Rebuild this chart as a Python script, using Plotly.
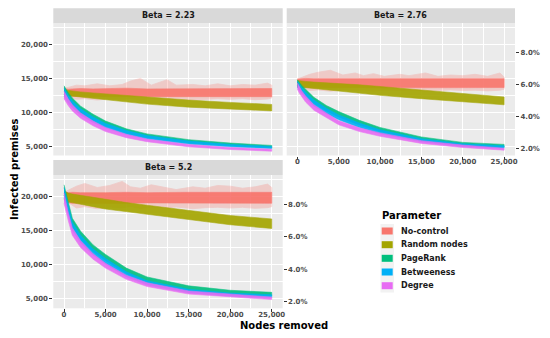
import plotly.graph_objects as go

# ---------------- data ----------------
STRATEGIES = ["No-control", "Random nodes", "PageRank", "Betweeness", "Degree"]
COLORS = ["#F8766D", "#A3A500", "#00BF7D", "#00B0F6", "#E76BF3"]
PANELS = ["Beta = 2.23", "Beta = 2.76", "Beta = 5.2"]

X = [0, 250, 500, 1000, 2000, 3500, 5000, 7500, 10000, 15000, 20000, 25000]
X_SPIKE = [0, 1500, 2500, 4000, 5500, 7000, 8000, 9200, 10500, 12400, 13500,
           15500, 17000, 18500, 20000, 21500, 23000, 24500, 25000]

X_TICKS = [0, 5000, 10000, 15000, 20000, 25000]
Y_TICKS = [5000, 10000, 15000, 20000]
PCT_TICKS = [2, 4, 6, 8]
PCT_LABELS = ["2.0%", "4.0%", "6.0%", "8.0%"]

# Beta = 2.23
B1_NOCTRL_LO = [12400, 12350, 12300, 12350, 12300, 12250, 12300, 12350, 12300, 12300, 12350, 12300]
B1_NOCTRL_HI = [13500, 13450, 13400, 13450, 13500, 13450, 13500, 13550, 13450, 13450, 13500, 13500]
B1_NOCTRL_SPK_LO = [12300, 11900, 12000, 11800, 12000, 11900, 12000, 11800, 12000, 11900, 12000,
                    11800, 11950, 12000, 11900, 12000, 11850, 11950, 12100]
B1_NOCTRL_SPK_HI = [13500, 14000, 13900, 14200, 13900, 14100, 14600, 15000, 14000, 14800, 14000,
                    14100, 13900, 14200, 13900, 14100, 14000, 14300, 14000]
B1_RANDOM_LO = [12600, 12500, 12450, 12350, 12200, 12000, 11800, 11500, 11200, 10750, 10450, 10200]
B1_RANDOM_HI = [13300, 13250, 13200, 13100, 13000, 12850, 12700, 12450, 12200, 11800, 11450, 11150]
B1_PAGERANK_LO = [12600, 12100, 11700, 11000, 9900, 8800, 7950, 6900, 6250, 5450, 5050, 4750]
B1_PAGERANK_HI = [13900, 13300, 12900, 12100, 10900, 9700, 8700, 7550, 6800, 5950, 5450, 5100]
B1_BETWEEN_LO = [12400, 11900, 11400, 10700, 9600, 8500, 7700, 6700, 6050, 5300, 4900, 4650]
B1_BETWEEN_HI = [13600, 13000, 12500, 11700, 10500, 9300, 8350, 7300, 6550, 5750, 5250, 4950]
B1_DEGREE_LO = [12000, 11500, 11000, 10200, 9100, 8000, 7150, 6250, 5650, 4900, 4500, 4250]
B1_DEGREE_HI = [13100, 12500, 12000, 11100, 9900, 8700, 7750, 6750, 6050, 5250, 4800, 4550]

# Beta = 2.76
B2_NOCTRL_LO = [13700, 13650, 13600, 13650, 13600, 13650, 13600, 13650, 13600, 13650, 13600, 13650]
B2_NOCTRL_HI = [14900, 14950, 14900, 15000, 14950, 14950, 15000, 14950, 14900, 14950, 15000, 14950]
B2_NOCTRL_SPK_LO = [13700, 13200, 13300, 13100, 13300, 13200, 13300, 13100, 13250, 13200, 13300,
                    13100, 13250, 13300, 13200, 13250, 13150, 13250, 13400]
B2_NOCTRL_SPK_HI = [14900, 15600, 15900, 16200, 15500, 15800, 15400, 15700, 15300, 15600, 15400,
                    15800, 15300, 15500, 15400, 15600, 15300, 15800, 15200]
B2_RANDOM_LO = [13800, 13750, 13700, 13600, 13450, 13250, 13050, 12800, 12500, 12000, 11500, 11100]
B2_RANDOM_HI = [14700, 14650, 14600, 14550, 14450, 14350, 14250, 14050, 13800, 13300, 12750, 12250]
B2_PAGERANK_LO = [13900, 13400, 13000, 12400, 11300, 10200, 9300, 8100, 7150, 5850, 5100, 4850]
B2_PAGERANK_HI = [14800, 14400, 14000, 13400, 12200, 11000, 10100, 8800, 7750, 6350, 5550, 5250]
B2_BETWEEN_LO = [13700, 13200, 12800, 12100, 10900, 9800, 8900, 7750, 6850, 5650, 4950, 4700]
B2_BETWEEN_HI = [14600, 14100, 13700, 13000, 11800, 10600, 9600, 8400, 7400, 6100, 5350, 5050]
B2_DEGREE_LO = [13400, 12800, 12300, 11500, 10300, 9200, 8150, 7150, 6450, 5400, 4800, 4400]
B2_DEGREE_HI = [14300, 13700, 13200, 12400, 11100, 9900, 8750, 7700, 6950, 5800, 5150, 4700]

# Beta = 5.2
B3_NOCTRL_LO = [19500, 19100, 19050, 19000, 19050, 19000, 19050, 19000, 19050, 19000, 19050, 19000]
B3_NOCTRL_HI = [20800, 20600, 20550, 20600, 20550, 20600, 20550, 20600, 20550, 20600, 20550, 20600]
B3_NOCTRL_SPK_LO = [19500, 18300, 18500, 18200, 18400, 18300, 18500, 18200, 18400, 18300, 18450,
                    18200, 18350, 18400, 18300, 18400, 18250, 18350, 18500]
B3_NOCTRL_SPK_HI = [20600, 21500, 21900, 21300, 21600, 22200, 21400, 21200, 21700, 21300, 21000,
                    21400, 21200, 21600, 21500, 21200, 21400, 21800, 21300]
B3_RANDOM_LO = [19500, 19300, 19200, 19050, 18800, 18500, 18150, 17700, 17300, 16600, 15850, 15300]
B3_RANDOM_HI = [20800, 20600, 20500, 20350, 20150, 19850, 19500, 19100, 18700, 17900, 17200, 16700]
B3_PAGERANK_LO = [20200, 18900, 17900, 15500, 13700, 11900, 10600, 8700, 7450, 6250, 5700, 5450]
B3_PAGERANK_HI = [21700, 20400, 19300, 16800, 14900, 12900, 11500, 9500, 8200, 6900, 6250, 5950]
B3_BETWEEN_LO = [19800, 18500, 17400, 15000, 13200, 11400, 10100, 8250, 7050, 5900, 5400, 5200]
B3_BETWEEN_HI = [21300, 19900, 18700, 16200, 14300, 12300, 10900, 8950, 7650, 6400, 5850, 5600]
B3_DEGREE_LO = [19000, 17600, 16500, 14300, 12500, 10800, 9500, 7850, 6800, 5700, 5250, 4900]
B3_DEGREE_HI = [20500, 18900, 17700, 15400, 13500, 11600, 10200, 8450, 7350, 6150, 5650, 5250]

# ---------------- layout constants ----------------
# the page body has an 8px margin: draw a 542x330 figure offset by 8px
OFF = 8
W, H = 550 - OFF, 338 - OFF
X_RANGE = [-1290, 26320]
Y_RANGE = [3612, 23134]
# secondary (percentage) axis: 2.0% <-> 4580, 8.0% <-> 18880 premises
PCT_REF_V, PCT_REF_P, PCT_PER_UNIT = 4580, 2.0, 6.0 / 14300.0


def to_pct(v):
    return PCT_REF_P + (v - PCT_REF_V) * PCT_PER_UNIT


PCT_RANGE = [to_pct(Y_RANGE[0]), to_pct(Y_RANGE[1])]


def px(x):
    return (x - OFF) / W


def py(y):
    return 1 - (y - OFF) / H


P1_X = [px(53.3), px(282.7)]
P2_X = [px(286.7), px(515.0)]
TOP_Y = [py(155.5), py(23.3)]
BOT_Y = [py(308.3), py(175.0)]
STRIP_H = 15 / H

FONT = "DejaVu Sans"
TICKFONT = dict(family=FONT, size=7, color="#4D4D4D", weight="bold")

panel_data = [
    [(B1_NOCTRL_LO, B1_NOCTRL_HI, B1_NOCTRL_SPK_LO, B1_NOCTRL_SPK_HI),
     (B1_RANDOM_LO, B1_RANDOM_HI), (B1_PAGERANK_LO, B1_PAGERANK_HI),
     (B1_BETWEEN_LO, B1_BETWEEN_HI), (B1_DEGREE_LO, B1_DEGREE_HI)],
    [(B2_NOCTRL_LO, B2_NOCTRL_HI, B2_NOCTRL_SPK_LO, B2_NOCTRL_SPK_HI),
     (B2_RANDOM_LO, B2_RANDOM_HI), (B2_PAGERANK_LO, B2_PAGERANK_HI),
     (B2_BETWEEN_LO, B2_BETWEEN_HI), (B2_DEGREE_LO, B2_DEGREE_HI)],
    [(B3_NOCTRL_LO, B3_NOCTRL_HI, B3_NOCTRL_SPK_LO, B3_NOCTRL_SPK_HI),
     (B3_RANDOM_LO, B3_RANDOM_HI), (B3_PAGERANK_LO, B3_PAGERANK_HI),
     (B3_BETWEEN_LO, B3_BETWEEN_HI), (B3_DEGREE_LO, B3_DEGREE_HI)],
]
axes_refs = [("x", "y"), ("x2", "y2"), ("x3", "y3")]


def band(xs, lo, hi, color, opacity, xa, ya, name, lw=0.6):
    return go.Scatter(
        x=list(xs) + list(xs)[::-1], y=list(hi) + list(lo)[::-1],
        fill="toself", fillcolor=color, mode="lines",
        line=dict(color=color, width=lw), opacity=opacity,
        xaxis=xa, yaxis=ya, hoverinfo="skip", showlegend=False, name=name)


fig = go.Figure()
for (xa, ya), series in zip(axes_refs, panel_data):
    for i, (name, color) in enumerate(zip(STRATEGIES, COLORS)):
        d = series[i]
        if i == 0:
            fig.add_trace(band(X_SPIKE, d[2], d[3], color, 0.28, xa, ya, name, lw=0.8))
        fig.add_trace(band(X, d[0], d[1], color, 0.9, xa, ya, name))

# dummy traces so the secondary axes are drawn
fig.add_trace(go.Scatter(x=[None], y=[None], xaxis="x2", yaxis="y4", showlegend=False))
fig.add_trace(go.Scatter(x=[None], y=[None], xaxis="x3", yaxis="y5", showlegend=False))

grid = dict(showgrid=True, gridcolor="white", gridwidth=1.1, zeroline=False,
            showline=False, automargin=False)
tickstyle = dict(ticks="outside", ticklen=3, tickcolor="#333333", tickwidth=1,
                 tickfont=TICKFONT)
xminor = dict(tickvals=[2500, 7500, 12500, 17500, 22500], showgrid=True,
              gridcolor="white", gridwidth=0.5)
yminor = dict(tickvals=[7500, 12500, 17500, 22500], showgrid=True,
              gridcolor="white", gridwidth=0.5)

xcommon = dict(range=X_RANGE, tickvals=X_TICKS, tickformat=",d", minor=xminor, **grid)
ycommon = dict(range=Y_RANGE, tickvals=Y_TICKS, tickformat=",d", minor=yminor, **grid)
pcommon = dict(range=PCT_RANGE, tickvals=PCT_TICKS, ticktext=PCT_LABELS, side="right",
               showgrid=False, zeroline=False, showline=False, automargin=False,
               **tickstyle)

fig.update_layout(
    width=W, height=H, template="none",
    margin=dict(l=0, r=0, t=0, b=0),
    paper_bgcolor="white", plot_bgcolor="#EBEBEB",
    showlegend=False,
    xaxis=dict(domain=P1_X, anchor="y", showticklabels=False, ticks="", **xcommon),
    yaxis=dict(domain=TOP_Y, anchor="x", **ycommon, **tickstyle),
    xaxis2=dict(domain=P2_X, anchor="y2", ticklabelstandoff=-4, **xcommon, **tickstyle),
    yaxis2=dict(domain=TOP_Y, anchor="x2", showticklabels=False, ticks="", **ycommon),
    xaxis3=dict(domain=P1_X, anchor="y3", ticklabelstandoff=-4, **xcommon, **tickstyle),
    yaxis3=dict(domain=BOT_Y, anchor="x3", **ycommon, **tickstyle),
    yaxis4=dict(overlaying="y2", anchor="x2", **pcommon),
    yaxis5=dict(overlaying="y3", anchor="x3", **pcommon),
)

shapes = []
annotations = []
# facet strips
for title, xd, yd in [(PANELS[0], P1_X, TOP_Y), (PANELS[1], P2_X, TOP_Y), (PANELS[2], P1_X, BOT_Y)]:
    shapes.append(dict(type="rect", xref="paper", yref="paper", x0=xd[0], x1=xd[1],
                       y0=yd[1], y1=yd[1] + STRIP_H, fillcolor="#D9D9D9", line=dict(width=0),
                       layer="below"))
    annotations.append(dict(xref="paper", yref="paper", x=(xd[0] + xd[1]) / 2,
                            y=yd[1] + STRIP_H / 2, text=title, showarrow=False,
                            xanchor="center", yanchor="middle",
                            font=dict(family=FONT, size=8, color="#1A1A1A", weight="bold")))

# axis titles
annotations.append(dict(xref="paper", yref="paper", x=px(284), y=py(325), text="Nodes removed",
                        showarrow=False, xanchor="center", yanchor="middle",
                        font=dict(family=FONT, size=10, color="black", weight="bold")))
annotations.append(dict(xref="paper", yref="paper", x=px(15), y=py(169), text="Infected premises",
                        showarrow=False, xanchor="center", yanchor="middle", textangle=-90,
                        font=dict(family=FONT, size=10, color="black", weight="bold")))

# legend (drawn by hand to match ggplot key spacing)
annotations.append(dict(xref="paper", yref="paper", x=px(380), y=py(215.7), text="Parameter",
                        showarrow=False, xanchor="left", yanchor="middle",
                        font=dict(family=FONT, size=10, color="black", weight="bold")))
LEG_Y = [231, 244.7, 258.3, 272, 285.7]
shapes.append(dict(type="rect", xref="paper", yref="paper", x0=px(380.5), x1=px(394),
                   y0=py(292.5), y1=py(224), fillcolor="#F2F2F2", line=dict(width=0)))
for name, color, ly in zip(STRATEGIES, COLORS, LEG_Y):
    shapes.append(dict(type="rect", xref="paper", yref="paper", x0=px(381.7), x1=px(392.7),
                       y0=py(ly + 3.5), y1=py(ly - 3.5), fillcolor=color, line=dict(width=0)))
    annotations.append(dict(xref="paper", yref="paper", x=px(399), y=py(ly), text=name,
                            showarrow=False, xanchor="left", yanchor="middle",
                            font=dict(family=FONT, size=8, color="#1A1A1A", weight="bold")))

fig.update_layout(shapes=shapes, annotations=annotations)
fig.write_html("out.html")
